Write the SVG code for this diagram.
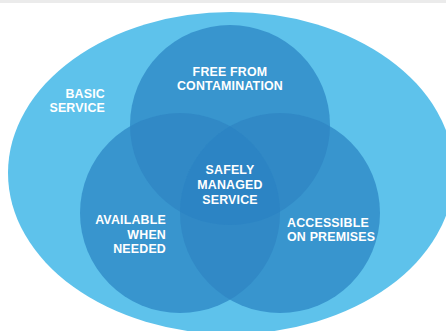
<svg xmlns="http://www.w3.org/2000/svg" width="446" height="331" viewBox="0 0 446 331">
<style>
.t{font-family:"Liberation Sans",Arial,sans-serif;font-weight:bold;font-size:12.4px;fill:#ffffff;letter-spacing:0.2px}
.c1{fill:#3895CE}
.c2{fill:#3189C6}
.c3{fill:#2C84C4}
</style>
<defs>
<clipPath id="cA"><circle cx="230" cy="125" r="100"/></clipPath>
<clipPath id="cB"><circle cx="180" cy="213" r="100"/></clipPath>
<clipPath id="cC"><circle cx="280" cy="213" r="100"/></clipPath>
</defs>
<rect x="0" y="0" width="446" height="331" fill="#ffffff"/>
<rect x="0" y="0" width="446" height="3" fill="#ebebeb"/>
<g id="basic">
<ellipse cx="231" cy="173" rx="223" ry="161" fill="#5EC2EB"/>
<text class="t" x="105" y="98" text-anchor="end">BASIC</text>
<text class="t" x="105" y="112" text-anchor="end">SERVICE</text>
</g>
<g id="circles">
<circle class="c1" cx="230" cy="125" r="100"/>
<circle class="c1" cx="180" cy="213" r="100"/>
<circle class="c1" cx="280" cy="213" r="100"/>
<g clip-path="url(#cA)"><circle class="c2" cx="180" cy="213" r="100"/><circle class="c2" cx="280" cy="213" r="100"/></g>
<g clip-path="url(#cB)"><circle class="c2" cx="280" cy="213" r="100"/></g>
<g clip-path="url(#cA)"><g clip-path="url(#cB)"><circle class="c3" cx="280" cy="213" r="100"/></g></g>
</g>
<g id="free">
<text class="t" x="230" y="76" text-anchor="middle">FREE FROM</text>
<text class="t" x="230" y="90" text-anchor="middle">CONTAMINATION</text>
</g>
<g id="safely">
<text class="t" x="230" y="174" text-anchor="middle">SAFELY</text>
<text class="t" x="230" y="189" text-anchor="middle">MANAGED</text>
<text class="t" x="230" y="204" text-anchor="middle">SERVICE</text>
</g>
<g id="available">
<text class="t" x="166" y="224" text-anchor="end">AVAILABLE</text>
<text class="t" x="166" y="239" text-anchor="end">WHEN</text>
<text class="t" x="166" y="253" text-anchor="end">NEEDED</text>
</g>
<g id="accessible">
<text class="t" x="287" y="227">ACCESSIBLE</text>
<text class="t" x="287" y="241">ON PREMISES</text>
</g>
<g id="connectors"/>
</svg>
